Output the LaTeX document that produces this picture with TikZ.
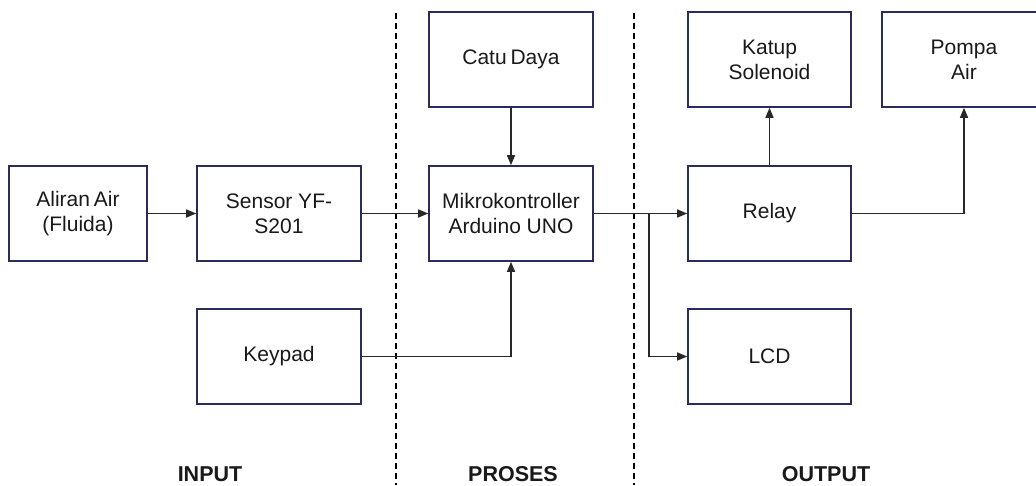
\documentclass[tikz,border=0pt]{standalone}
\usepackage{fontspec}
\setmainfont{Liberation Sans}
\usetikzlibrary{arrows.meta}
\definecolor{boxc}{RGB}{40,45,90}
\definecolor{linec}{RGB}{40,40,40}
\definecolor{txtc}{RGB}{25,25,25}
\begin{document}
\begin{tikzpicture}[x=1pt,y=-1pt,
  blk/.style={draw=boxc,line width=1.6pt,minimum width=164pt,minimum height=95pt,inner sep=0pt,align=center,font=\fontsize{21}{25}\selectfont,text=txtc},
  conn/.style={draw=linec,line width=1.4pt},
  arr/.style={conn,-{Triangle[length=10pt,width=8pt]}},
  sep/.style={draw=black,line width=2.2pt,dash pattern=on 6pt off 4pt},
  lbl/.style={font=\fontsize{21.5}{25}\selectfont\bfseries,text=txtc,inner sep=0pt}]
\useasboundingbox (0,0) rectangle (1036,485);
\clip (0,0) rectangle (1036,485);
% separators
\draw[sep] (396,13) -- (396,485);
\draw[sep] (634,13) -- (634,485);
% blocks
\node[blk,minimum width=138pt] (air) at (78,213.5) {Aliran\hspace{-2pt} Air\\(Fluida)};
\node[blk] (sensor) at (279,213.5) {Sensor YF-\\S201};
\node[blk] (keypad) at (279,356.5) {Keypad};
\node[blk] (catu) at (511,59.5) {Catu\hspace{-2pt} Daya};
\node[blk] (mikro) at (511,213.5) {Mikrokontroller\\Arduino UNO};
\node[blk,minimum width=163pt] (relay) at (769.5,213.5) {Relay};
\node[blk,minimum width=163pt] (katup) at (769.5,59.5) {Katup\\Solenoid};
\node[blk,minimum width=163pt] (lcd) at (769.5,356.5) {LCD};
\node[blk] (pompa) at (964,59.5) {Pompa\\Air};
% connectors
\draw[arr] (air.east) -- (sensor.west);
\draw[arr] (sensor.east) -- (mikro.west);
\draw[arr] (catu.south) -- (mikro.north);
\draw[arr] (keypad.east) -| (mikro.south);
\draw[arr] (mikro.east) -- (relay.west);
\coordinate (j) at (649,213.5);
\draw[arr] (j) |- (lcd.west);
\draw[arr] (relay.north) -- (katup.south);
\draw[arr] (relay.east) -| (pompa.south);
% labels
\node[lbl] (lin) at (210,474) {INPUT};
\node[lbl] (lpr) at (513,474) {PROSES};
\node[lbl] (lout) at (826,474) {OUTPUT};
\end{tikzpicture}
\end{document}
